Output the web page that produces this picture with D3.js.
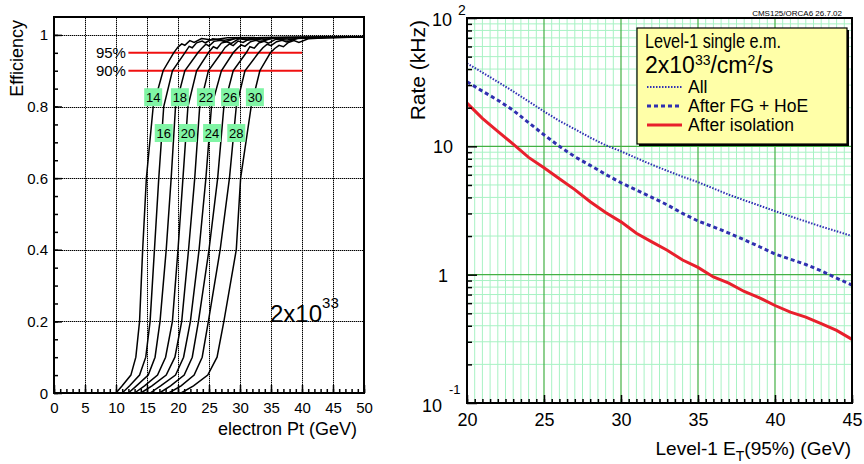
<!DOCTYPE html>
<html>
<head>
<meta charset="utf-8">
<script src="https://cdn.jsdelivr.net/npm/d3@7"></script>
<style>
  body { margin: 0; background: #fff; }
  text { font-family: "Liberation Sans", Arial, Helvetica, sans-serif; fill: #000; }
</style>
</head>
<body>
<div id="chart-container"></div>
<script>
// ---- left panel data: electron Pt where each L1 threshold curve reaches a given efficiency
const thresholds = [14, 16, 18, 20, 22, 24, 26, 28, 30];
const effLevels = [0, 0.02, 0.05, 0.1, 0.2, 0.4, 0.6, 0.8, 0.9, 0.95];
const ptAtEff = [
  [10.0, 11.0, 12.4, 13.2, 13.8, 14.3, 14.9, 16.0, 17.6, 19.3],
  [11.0, 12.2, 13.8, 14.8, 15.5, 16.2, 16.9, 17.7, 19.1, 21.1],
  [12.0, 13.3, 15.2, 16.3, 17.1, 18.1, 18.9, 19.6, 21.1, 23.2],
  [13.0, 14.6, 16.7, 18.0, 19.1, 20.0, 20.8, 21.6, 23.0, 24.9],
  [14.0, 15.8, 18.1, 19.5, 20.6, 21.7, 22.7, 23.5, 24.9, 27.0],
  [15.5, 17.2, 19.6, 20.9, 22.0, 23.4, 24.5, 25.4, 27.0, 28.9],
  [17.0, 18.8, 21.0, 22.3, 23.3, 25.0, 26.4, 27.4, 28.9, 31.0],
  [18.5, 20.5, 22.6, 23.9, 24.9, 26.8, 28.3, 29.4, 30.8, 33.0],
  [20.5, 22.5, 24.8, 26.3, 27.4, 29.4, 30.1, 31.8, 33.2, 34.9]
];
// noisy plateau of each curve above 95%
const topPt = [
  [20.0, 20.6, 21.1, 21.9, 22.6, 23.8, 25.5, 28.0, 50],
  [21.8, 22.3, 23.0, 23.9, 24.4, 25.6, 27.5, 30.0, 50],
  [23.8, 24.5, 25.0, 25.8, 26.9, 27.6, 29.2, 32.0, 50],
  [25.7, 26.3, 27.0, 27.8, 28.6, 29.8, 31.4, 34.0, 50],
  [27.6, 28.3, 28.9, 29.7, 30.5, 31.6, 33.5, 36.0, 50],
  [29.6, 30.2, 30.8, 31.7, 32.6, 33.3, 35.0, 38.0, 50],
  [31.6, 32.3, 33.0, 33.9, 34.6, 35.8, 37.6, 40.0, 50],
  [33.7, 34.4, 35.0, 35.9, 36.8, 37.5, 39.2, 42.0, 50],
  [35.6, 36.3, 37.0, 37.8, 38.7, 39.5, 41.0, 44.0, 50]
];
const topEff = [
  [0.966, 0.975, 0.971, 0.984, 0.979, 0.990, 0.986, 0.992, 0.994],
  [0.968, 0.964, 0.978, 0.983, 0.978, 0.989, 0.985, 0.992, 0.994],
  [0.962, 0.974, 0.969, 0.982, 0.985, 0.980, 0.990, 0.992, 0.994],
  [0.967, 0.962, 0.977, 0.981, 0.976, 0.989, 0.986, 0.992, 0.994],
  [0.965, 0.975, 0.970, 0.983, 0.979, 0.990, 0.986, 0.992, 0.994],
  [0.963, 0.972, 0.968, 0.981, 0.985, 0.980, 0.990, 0.992, 0.994],
  [0.967, 0.963, 0.977, 0.982, 0.977, 0.988, 0.986, 0.992, 0.994],
  [0.964, 0.974, 0.970, 0.981, 0.985, 0.980, 0.990, 0.992, 0.994],
  [0.962, 0.971, 0.967, 0.979, 0.984, 0.979, 0.989, 0.992, 0.994]
];
const refEff = [0.95, 0.90];
const refLabels = ['95%', '90%'];
const tagText = ['14', '16', '18', '20', '22', '24', '26', '28', '30'];
const tagPt = [16.0, 17.7, 20.3, 21.6, 24.5, 25.5, 28.4, 29.4, 32.4];
const tagEff = [0.826, 0.726, 0.826, 0.726, 0.826, 0.726, 0.826, 0.726, 0.826];

// ---- right panel data: L1 rate vs 95% threshold
const etBins = [20, 21, 22, 23, 24, 25, 26, 27, 28, 29, 30, 31, 32, 33, 34, 35, 36, 37, 38, 39, 40, 41, 42, 43, 44, 45];
const rateAll = [44.4, 37.6, 31.8, 26.8, 22.4, 18.7, 15.8, 13.6, 11.7, 10.2, 9.15, 8.1, 7.2, 6.45, 5.8, 5.26, 4.7, 4.2, 3.8, 3.45, 3.13, 2.85, 2.6, 2.37, 2.18, 2.0];
const rateFgHoe = [31.9, 26.9, 22.9, 19.1, 15.3, 12.3, 10.0, 8.3, 7.1, 6.05, 5.2, 4.57, 4.0, 3.5, 3.0, 2.62, 2.36, 2.11, 1.87, 1.65, 1.45, 1.32, 1.2, 1.07, 0.94, 0.83];
const rateIso = [21.7, 16.5, 13.1, 10.4, 8.2, 6.8, 5.6, 4.6, 3.7, 3.05, 2.58, 2.1, 1.8, 1.55, 1.3, 1.14, 0.96, 0.86, 0.74, 0.66, 0.575, 0.51, 0.467, 0.415, 0.368, 0.313];
const legendNames = ['All', 'After FG + HoE', 'After isolation'];

const svg = d3.select('div#chart-container')
  .append('svg')
  .attr('width', 864)
  .attr('height', 464);

// ================= LEFT PANEL =================
const xL = d3.scaleLinear().domain([0, 50]).range([54, 364]);
const yL = d3.scaleLinear().domain([0, 1.05]).range([393, 17]);

// grid: a light solid line under a black dotted one, so it always shows
const gridVals = { v: d3.range(5, 50, 5), h: [0.2, 0.4, 0.6, 0.8, 1] };
const gridL = svg.append('g').attr('id', 'grid-left');
[{ color: '#a0a0a0', dash: null }, { color: '#000', dash: '1 1' }].forEach(st => {
  gridL.append('g').selectAll('line')
    .data(gridVals.v)
    .enter().append('line')
    .attr('x1', d => Math.round(xL(d)) + 0.5).attr('x2', d => Math.round(xL(d)) + 0.5)
    .attr('y1', yL(0)).attr('y2', yL(1.05))
    .attr('stroke', st.color).attr('stroke-width', 1).attr('stroke-dasharray', st.dash);
  gridL.append('g').selectAll('line')
    .data(gridVals.h)
    .enter().append('line')
    .attr('x1', xL(0)).attr('x2', xL(50))
    .attr('y1', d => Math.round(yL(d)) + 0.5).attr('y2', d => Math.round(yL(d)) + 0.5)
    .attr('stroke', st.color).attr('stroke-width', 1).attr('stroke-dasharray', st.dash);
});

// red reference lines
svg.selectAll('line.ref')
  .data(refEff)
  .enter().append('line').attr('class', 'ref')
  .attr('x1', xL(12)).attr('x2', xL(40))
  .attr('y1', d => yL(d)).attr('y2', d => yL(d))
  .attr('stroke', '#f01010').attr('stroke-width', 2);
svg.selectAll('text.ref')
  .data(refEff)
  .enter().append('text').attr('class', 'ref')
  .attr('x', xL(11.6))
  .attr('y', d => yL(d) + 5)
  .attr('text-anchor', 'end')
  .style('font-size', '15px')
  .text((d, i) => refLabels[i]);

// efficiency curves
const effLine = d3.line().x(d => xL(d[0])).y(d => yL(d[1]));
const curves = ptAtEff.map((pts, c) =>
  pts.map((p, i) => [p, effLevels[i]]).concat(topPt[c].map((p, i) => [p, topEff[c][i]])));
svg.append('g').selectAll('path')
  .data(curves)
  .enter().append('path')
  .attr('d', effLine)
  .attr('fill', 'none')
  .attr('stroke', '#000')
  .attr('stroke-width', 1.5);

// threshold tags
const tags = svg.append('g').selectAll('g')
  .data(tagText)
  .enter().append('g')
  .attr('transform', (d, i) => `translate(${xL(tagPt[i])},${yL(tagEff[i])})`);
tags.append('rect')
  .attr('x', -9).attr('y', -9).attr('width', 18).attr('height', 18)
  .attr('fill', '#80f5a5');
tags.append('text')
  .attr('text-anchor', 'middle')
  .attr('y', 5)
  .style('font-size', '13px')
  .text(d => d);

// axes
const axBL = svg.append('g')
  .attr('class', 'axis')
  .attr('transform', `translate(0,${yL(0)})`)
  .call(d3.axisBottom(xL).tickValues(d3.range(0, 51, 5)).tickSize(-8).tickFormat(d3.format('d')));
axBL.selectAll('text').attr('y', 20).attr('dy', 0).style('font-size', '15px');
svg.append('g')
  .attr('class', 'axis')
  .attr('transform', `translate(0,${yL(0)})`)
  .call(d3.axisBottom(xL).tickValues(d3.range(0, 51, 1)).tickSize(-4).tickFormat(''));
const axLL = svg.append('g')
  .attr('class', 'axis')
  .attr('transform', `translate(${xL(0)},0)`)
  .call(d3.axisLeft(yL).tickValues([0, 0.2, 0.4, 0.6, 0.8, 1]).tickSize(-8).tickPadding(6).tickFormat(d3.format('~g')));
axLL.selectAll('text').attr('dy', 0).attr('y', 5).style('font-size', '15px');
svg.append('g')
  .attr('class', 'axis')
  .attr('transform', `translate(${xL(0)},0)`)
  .call(d3.axisLeft(yL).tickValues(d3.range(0, 1.05, 0.05)).tickSize(-4).tickFormat(''));

svg.append('rect')
  .attr('x', xL(0)).attr('y', yL(1.05))
  .attr('width', xL(50) - xL(0)).attr('height', yL(0) - yL(1.05))
  .attr('fill', 'none').attr('stroke', '#000').attr('stroke-width', 2);

svg.append('text')
  .attr('x', 357).attr('y', 435)
  .attr('text-anchor', 'end')
  .style('font-size', '18px')
  .text('electron Pt (GeV)');
svg.append('text')
  .attr('transform', 'translate(23,20) rotate(-90)')
  .attr('text-anchor', 'end')
  .style('font-size', '18px')
  .text('Efficiency');
const lumiL = svg.append('text')
  .attr('x', 270).attr('y', 322)
  .style('font-size', '24px');
lumiL.append('tspan').text('2x10');
lumiL.append('tspan').attr('dy', -14).style('font-size', '15px').text('33');

// ================= RIGHT PANEL =================
const xR = d3.scaleLinear().domain([20, 45]).range([467, 852]);
const yR = d3.scaleLog().domain([0.1, 100]).range([403, 18]);

const minorX = d3.range(20.5, 45, 0.5).filter(d => d % 5 !== 0);
const minorY = [];
[0.1, 1, 10].forEach(dec => d3.range(2, 10).forEach(m => minorY.push(dec * m)));

const gridR = svg.append('g');
gridR.selectAll('line.mx').data(minorX).enter().append('line').attr('class', 'mx')
  .attr('x1', d => xR(d)).attr('x2', d => xR(d)).attr('y1', yR(0.1)).attr('y2', yR(100))
  .attr('stroke', '#a8f2c4').attr('stroke-width', 1);
gridR.selectAll('line.my').data(minorY).enter().append('line').attr('class', 'my')
  .attr('x1', xR(20)).attr('x2', xR(45)).attr('y1', d => yR(d)).attr('y2', d => yR(d))
  .attr('stroke', '#a8f2c4').attr('stroke-width', 1);
gridR.selectAll('line.Mx').data([25, 30, 35, 40]).enter().append('line').attr('class', 'Mx')
  .attr('x1', d => xR(d)).attr('x2', d => xR(d)).attr('y1', yR(0.1)).attr('y2', yR(100))
  .attr('stroke', '#44b044').attr('stroke-width', 1.2);
gridR.selectAll('line.My').data([1, 10]).enter().append('line').attr('class', 'My')
  .attr('x1', xR(20)).attr('x2', xR(45)).attr('y1', d => yR(d)).attr('y2', d => yR(d))
  .attr('stroke', '#44b044').attr('stroke-width', 1.2);

// rate curves
const rateLine = d3.line().x((d, i) => xR(etBins[i])).y(d => yR(d));
svg.append('path').datum(rateAll).attr('d', rateLine)
  .attr('fill', 'none').attr('stroke', '#3030b4').attr('stroke-width', 2).attr('stroke-dasharray', '1.5,1.5');
svg.append('path').datum(rateFgHoe).attr('d', rateLine)
  .attr('fill', 'none').attr('stroke', '#3030b0').attr('stroke-width', 3).attr('stroke-dasharray', '4,3');
svg.append('path').datum(rateIso).attr('d', rateLine)
  .attr('fill', 'none').attr('stroke', '#e8202c').attr('stroke-width', 3);

// axes ticks
const axBR = svg.append('g')
  .attr('class', 'axis')
  .attr('transform', `translate(0,${yR(0.1)})`)
  .call(d3.axisBottom(xR).tickValues(d3.range(20, 46, 5)).tickSize(-8).tickFormat(d3.format('d')));
axBR.selectAll('text').attr('y', 23).attr('dy', 0).style('font-size', '18px');
svg.append('g')
  .attr('class', 'axis')
  .attr('transform', `translate(0,${yR(0.1)})`)
  .call(d3.axisBottom(xR).tickValues(d3.range(20, 45.1, 0.5)).tickSize(-4).tickFormat(''));
svg.append('g')
  .attr('class', 'axis')
  .attr('transform', `translate(${xR(20)},0)`)
  .call(d3.axisLeft(yR).tickValues([0.1, 1, 10, 100]).tickSize(-10).tickFormat(''));
svg.append('g')
  .attr('class', 'axis')
  .attr('transform', `translate(${xR(20)},0)`)
  .call(d3.axisLeft(yR).tickValues(minorY).tickSize(-5).tickFormat(''));
svg.selectAll('g.axis .domain').remove();
svg.selectAll('g.axis .tick line').attr('stroke-width', 1.5);

// y labels (ROOT style exponents)
const yLab = svg.append('g').style('font-size', '18px');
yLab.append('text').attr('x', 453).attr('y', yR(10) + 7).attr('text-anchor', 'end').text('10');
yLab.append('text').attr('x', 448).attr('y', yR(1) + 7).attr('text-anchor', 'end').text('1');
yLab.append('text').attr('x', 432).attr('y', yR(100) + 8).text('10');
yLab.append('text').attr('x', 458).attr('y', yR(100) - 3).style('font-size', '14px').text('2');
yLab.append('text').attr('x', 422).attr('y', yR(0.1) + 9).text('10');
yLab.append('text').attr('x', 449).attr('y', yR(0.1) - 9).style('font-size', '13px').text('-1');

svg.append('rect')
  .attr('x', xR(20)).attr('y', yR(100))
  .attr('width', xR(45) - xR(20)).attr('height', yR(0.1) - yR(100))
  .attr('fill', 'none').attr('stroke', '#000').attr('stroke-width', 2);

// titles
const xTitle = svg.append('text')
  .attr('x', 851).attr('y', 455)
  .attr('text-anchor', 'end')
  .style('font-size', '19px');
xTitle.append('tspan').text('Level-1 E');
xTitle.append('tspan').attr('dy', 6).style('font-size', '14px').text('T');
xTitle.append('tspan').attr('dy', -6).text('(95%) (GeV)');
svg.append('text')
  .attr('transform', 'translate(425,20) rotate(-90)')
  .attr('text-anchor', 'end')
  .style('font-size', '21px')
  .text('Rate (kHz)');
svg.append('text')
  .attr('x', 842).attr('y', 16)
  .attr('text-anchor', 'end')
  .style('font-size', '8px')
  .text('CMS125/ORCA6 26.7.02');

// legend
const leg = svg.append('g').attr('transform', 'translate(637,28)');
leg.append('rect').attr('x', 2).attr('y', 2).attr('width', 210).attr('height', 116).attr('fill', '#000');
leg.append('rect').attr('width', 210).attr('height', 116)
  .attr('fill', '#ffffa8').attr('stroke', '#000').attr('stroke-width', 1.2);
leg.append('text').attr('x', 8).attr('y', 20)
  .attr('textLength', 136).attr('lengthAdjust', 'spacingAndGlyphs')
  .style('font-size', '20px').text('Level-1 single e.m.');
const lumiR = leg.append('text').attr('x', 8).attr('y', 45).style('font-size', '23px');
lumiR.append('tspan').text('2x10');
lumiR.append('tspan').attr('dy', -8).style('font-size', '14px').text('33');
lumiR.append('tspan').attr('dy', 8).text('/cm');
lumiR.append('tspan').attr('dy', -8).style('font-size', '14px').text('2');
lumiR.append('tspan').attr('dy', 8).text('/s');
const legStyles = [
  { color: '#3030b4', width: 2, dash: '1.5,1.5' },
  { color: '#3030b0', width: 3, dash: '4,3' },
  { color: '#e8202c', width: 3, dash: null }
];
legendNames.forEach((name, i) => {
  const yy = 59 + i * 19;
  leg.append('line')
    .attr('x1', 10).attr('x2', 45).attr('y1', yy).attr('y2', yy)
    .attr('stroke', legStyles[i].color).attr('stroke-width', legStyles[i].width)
    .attr('stroke-dasharray', legStyles[i].dash);
  leg.append('text').attr('x', 51).attr('y', yy + 6).style('font-size', '17.5px').text(name);
});
</script>
</body>
</html>
